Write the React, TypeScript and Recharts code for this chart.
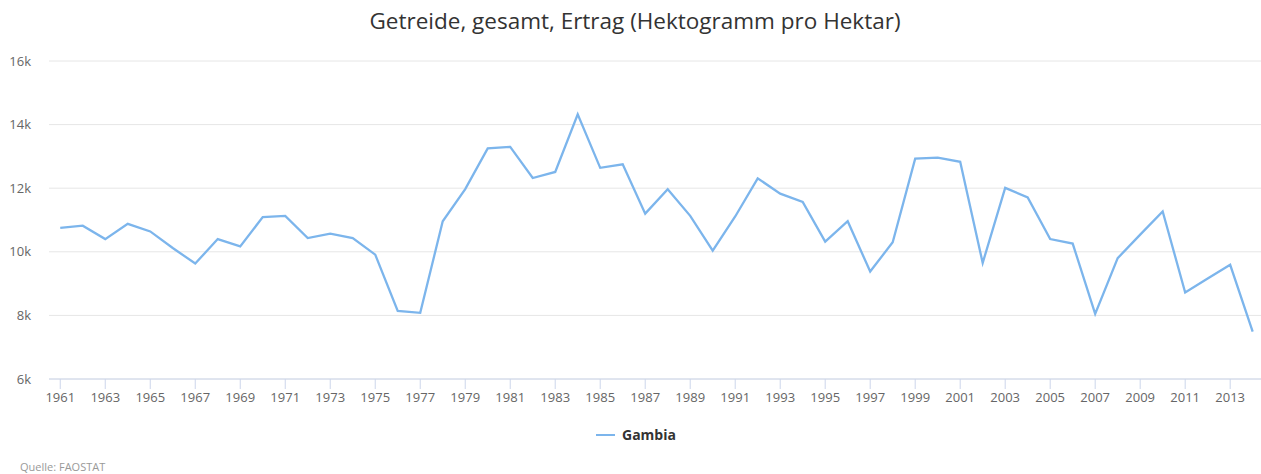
import { CartesianGrid, Line, LineChart, XAxis, YAxis } from 'recharts';

const years = [
  1961, 1962, 1963, 1964, 1965, 1966, 1967, 1968, 1969, 1970,
  1971, 1972, 1973, 1974, 1975, 1976, 1977, 1978, 1979, 1980,
  1981, 1982, 1983, 1984, 1985, 1986, 1987, 1988, 1989, 1990,
  1991, 1992, 1993, 1994, 1995, 1996, 1997, 1998, 1999, 2000,
  2001, 2002, 2003, 2004, 2005, 2006, 2007, 2008, 2009, 2010,
  2011, 2012, 2013, 2014,
];

// Gambia, hectograms per hectare
const gambia = [
  10750, 10820, 10400, 10880, 10640, 10120, 9630, 10400, 10170, 11090,
  11130, 10430, 10570, 10430, 9910, 8140, 8080, 10960, 11970, 13250,
  13300, 12320, 12510, 14320, 12640, 12750, 11200, 11970, 11130, 10040,
  11110, 12310, 11830, 11570, 10320, 10960, 9380, 10300, 12930, 12960,
  12830, 9650, 12010, 11710, 10400, 10260, 8050, 9800, 10540, 11270,
  8720, 9160, 9590, 7490,
];

const xTicks = years.filter((y) => y % 2 === 1);
const yTicks = [6000, 8000, 10000, 12000, 14000, 16000];

const data = years.map((year, i) => ({ year, gambia: gambia[i] }));

const font = '"Open Sans", sans-serif';

export default function App() {
  return (
    <div style={{ position: 'relative', width: 1261, height: 474, fontFamily: font }}>
      <style>{'body { margin: 0; }'}</style>
      <div
        style={{
          position: 'absolute',
          top: 5,
          left: 0,
          width: 1270,
          textAlign: 'center',
          fontSize: 22.5,
          color: '#333333',
        }}
      >
        Getreide, gesamt, Ertrag (Hektogramm pro Hektar)
      </div>
      <LineChart
        width={1261}
        height={474}
        data={data}
        margin={{ top: 61, right: 0, left: 0, bottom: 65 }}
      >
        <CartesianGrid stroke="#e6e6e6" vertical={false} />
        <XAxis
          dataKey="year"
          type="number"
          domain={[1960.5, 2014.37]}
          ticks={xTicks}
          interval={0}
          height={30}
          tickSize={10}
          tickMargin={4}
          stroke="#ccd6eb"
          tick={{ fill: '#666666', fontSize: 13, fontFamily: font }}
        />
        <YAxis
          domain={[6000, 16000]}
          ticks={yTicks}
          width={49}
          axisLine={false}
          tickLine={false}
          tickMargin={12}
          tickFormatter={(v: number) => `${v / 1000}k`}
          tick={{ fill: '#666666', fontSize: 13, fontFamily: font }}
        />
        <Line
          dataKey="gambia"
          stroke="#7cb5ec"
          strokeWidth={2.3}
          dot={false}
          isAnimationActive={false}
        />
      </LineChart>
      <div
        style={{
          position: 'absolute',
          top: 425,
          left: 596,
          display: 'flex',
          alignItems: 'center',
          fontSize: 14,
          fontWeight: 'bold',
          color: '#333333',
        }}
      >
        <span style={{ display: 'inline-block', width: 19, height: 2, background: '#7cb5ec', marginRight: 7 }} />
        Gambia
      </div>
      <div
        style={{
          position: 'absolute',
          top: 459,
          left: 20,
          fontSize: 11,
          color: '#999999',
        }}
      >
        Quelle: FAOSTAT
      </div>
    </div>
  );
}
